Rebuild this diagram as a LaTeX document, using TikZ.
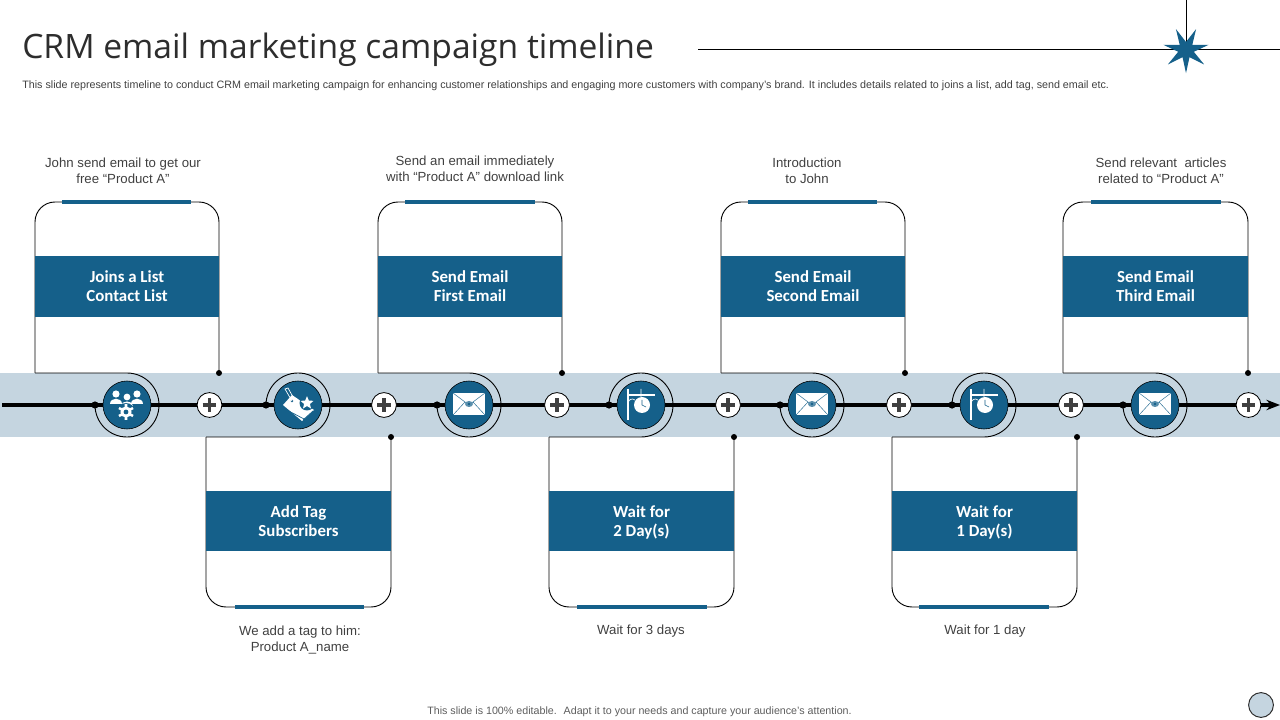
\documentclass[tikz,border=0pt]{standalone}
\usepackage{fontspec}
\setmainfont{Liberation Sans}
\newfontfamily\titlefont{Open Sans}
\newfontfamily\cardfont{Carlito}
\usetikzlibrary{arrows.meta,shapes.geometric}
\definecolor{crmblue}{HTML}{15608A}
\definecolor{crmband}{HTML}{C5D5E0}
\definecolor{crmtext}{HTML}{404040}
\tikzset{
  cardline/.style={draw=black,line width=0.65pt},
  cardtop/.style={cardline,rounded corners=0.5cm},
  accent/.style={draw=crmblue,line width=2.2pt},
  bannertext/.style={text=white,inner sep=0pt,align=center,font=\cardfont\bfseries\fontsize{12}{13.5}\selectfont},
  banner/.style={bannertext,fill=crmblue,minimum width=4.62cm},
  bannerup/.style={banner,minimum height=1.52cm},
  bannerdown/.style={banner,minimum height=1.5cm},
  note/.style={text=crmtext,align=center,inner sep=0pt,font=\fontsize{9.4}{11.4}\selectfont},
  dot/.style={circle,fill=black,inner sep=0pt,minimum size=0.15cm},
  axisdot/.style={dot,minimum size=0.18cm},
  hub/.style={circle,fill=crmblue,draw=black,line width=0.4pt,inner sep=0pt,minimum size=1.2cm},
  plusnode/.style={circle,draw=black,fill=white,line width=0.6pt,inner sep=0pt,minimum size=0.62cm,
    path picture={\draw[crmtext,line width=2.5pt] ([xshift=-0.17cm]path picture bounding box.center)--([xshift=0.17cm]path picture bounding box.center)
      ([yshift=-0.17cm]path picture bounding box.center)--([yshift=0.17cm]path picture bounding box.center);}}
}
% icons, drawn round the centre of a hub
\newcommand{\peopleicon}[1]{\begin{scope}[shift={(#1)},white]
\fill (-11,-11) circle [radius=3.6];
\fill (10,-11) circle [radius=3.6];
\fill (0,-8) circle [radius=3.4];
\fill (-17,-1) .. controls (-17,-8) and (-5,-8) .. (-5,-1) -- cycle;
\fill (4,-1) .. controls (4,-8) and (16,-8) .. (16,-1) -- cycle;
\fill (-6,1) .. controls (-6,-5) and (6,-5) .. (6,1) -- cycle;
\fill[crmblue] (-1,7) circle [radius=9];
\fill (-1,7) circle [radius=5.6];
\draw[line width=1.8pt] (-1,-1)--(-1,15) (-8,3)--(6,11) (-8,11)--(6,3);
\fill[crmblue] (-1,7) circle [radius=2.4];
\end{scope}}
\newcommand{\mailicon}[1]{\begin{scope}[shift={(#1)}]
\fill[white] (-16,-12) rectangle (16,10);
\draw[crmblue,line width=0.3pt] (-16,-12)--(0,0)--(16,-12) (-16,10)--(-4,-3) (16,10)--(4,-3);
\fill[crmblue!70] (0,-1) ellipse [x radius=4,y radius=3];
\fill[crmblue] (0,-1) circle [radius=1.3];
\end{scope}}
\newcommand{\tagicon}[1]{\begin{scope}[shift={(#1)}]
\fill[white] (-15,0)--(-6,-10)--(16,5)--(4,16)--cycle;
\draw[crmblue,line width=0.5pt] (-13,4)--(6,14) (5,15)--(15,6);
\fill[crmblue] (-6,-4) circle [radius=1.4];
\draw[white,line width=0.5pt] (-6,-4)--(-13,-16)--(-10,-17)--(-5,-8);
\fill[crmblue] (9,-2) circle [radius=7.5];
\node[star,star points=5,star point ratio=2.2,fill=white,inner sep=0pt,minimum size=0.34cm] at (9,-2) {};
\end{scope}}
\newcommand{\clockicon}[1]{\begin{scope}[shift={(#1)}]
\draw[white,line width=1.4pt] (-13,-16)--(-13,15) (-13,-10)--(14,-10);
\draw[white,line width=0.5pt] (0,-16)--(0,-8) (-13,-2) .. controls (-12,-6) and (-9,-7) .. (-6,-5);
\fill[white] (1,0) circle [radius=8];
\draw[crmblue,line width=0.4pt] (1,-5)--(1,0)--(5,2);
\end{scope}}
\begin{document}
\begin{tikzpicture}[x=0.025cm,y=-0.025cm]
\useasboundingbox (0,0) rectangle (1280,720);
% header
\node (title) [anchor=west,inner sep=0pt,text=crmtext!70!black,font=\titlefont\fontsize{23.9}{29}\selectfont] at (22,49.5) {CRM email marketing campaign timeline};
\node (subtitle) [anchor=west,inner sep=0pt,text=crmtext,font=\fontsize{7.63}{9}\selectfont] at (22,85.5) {This slide represents timeline to conduct CRM email marketing campaign for enhancing customer relationships and engaging more customers with company’s brand. It includes details related to joins a list, add tag, send email etc.};
\coordinate (ruleleft) at (698,49);
\coordinate (ruleright) at (1280,49);
\coordinate (ruletop) at (1186,0);
\node (starback) [inner sep=0pt] at (1186,50) {};
\draw[line width=0.7pt] (ruleleft)--(ruleright);
\draw[line width=0.7pt] (ruletop)--(starback.center);
\node (starmark) [star,star points=7,star point ratio=2.9,shape border rotate=180,fill=crmblue,inner sep=0pt,minimum size=1.16cm] at (1186,50) {};
% band and axis
\fill[crmband] (0,373) rectangle (1280,437);
\coordinate (axisstart) at (2,405);
\coordinate (axisend) at (1280,405);
\draw[-{Stealth[length=0.34cm,width=0.26cm]},line width=2.2pt] (axisstart)--(axisend);
% upper cards
\draw[cardtop] (219,373)--(219,202)--(35,202)--(35,373);
\draw[cardline] (35,373)--(127,373) arc[start angle=90,end angle=-180,radius=0.8cm];
\draw[cardtop] (562,373)--(562,202)--(378,202)--(378,373);
\draw[cardline] (378,373)--(469,373) arc[start angle=90,end angle=-180,radius=0.8cm];
\draw[cardtop] (905,373)--(905,202)--(721,202)--(721,373);
\draw[cardline] (721,373)--(812,373) arc[start angle=90,end angle=-180,radius=0.8cm];
\draw[cardtop] (1248,373)--(1248,202)--(1063,202)--(1063,373);
\draw[cardline] (1063,373)--(1155,373) arc[start angle=90,end angle=-180,radius=0.8cm];
% lower cards
\draw[cardtop] (391,437)--(391,607)--(206,607)--(206,437);
\draw[cardline] (206,437)--(298,437) arc[start angle=-90,end angle=180,radius=0.8cm];
\draw[cardtop] (734,437)--(734,607)--(549,607)--(549,437);
\draw[cardline] (549,437)--(641,437) arc[start angle=-90,end angle=180,radius=0.8cm];
\draw[cardtop] (1077,437)--(1077,607)--(892,607)--(892,437);
\draw[cardline] (892,437)--(984,437) arc[start angle=-90,end angle=180,radius=0.8cm];
% accents
\draw[accent] (62,202)--(191,202);
\draw[accent] (405,202)--(535,202);
\draw[accent] (748,202)--(877,202);
\draw[accent] (1091,202)--(1221,202);
\draw[accent] (235,607)--(364,607);
\draw[accent] (577,607)--(707,607);
\draw[accent] (919,607)--(1049,607);
% banners
\node (joins) [bannerup] at (127,286.5) {Joins a List\\Contact List};
\node (first) [bannerup] at (470,286.5) {Send Email\\First Email};
\node (second) [bannerup] at (813,286.5) {Send Email\\Second Email};
\node (third) [bannerup] at (1155.5,286.5) {Send Email\\Third Email};
\node (addbox) [bannerdown] at (298.5,521) {};
\node (addtag) [bannertext] at (298.5,521) {Add Tag\\Subscribers};
\node (waittwobox) [bannerdown] at (641.5,521) {};
\node (waittwo) [bannertext] at (641.5,522) {Wait for\\2 Day(s)};
\node (waitonebox) [bannerdown] at (984.5,521) {};
\node (waitone) [bannertext] at (984.5,522) {Wait for\\1 Day(s)};
% notes
\node (notejoins) [note] at (123,171) {John send email to get our\\free “Product A”};
\node (notefirst) [note] at (475,169) {Send an email immediately\\with “Product A” download link};
\node (notesecond) [note] at (807,171) {Introduction\\to John};
\node (notethird) [note] at (1161,171) {Send relevant~ articles\\related to “Product A”};
\node (notetag) [note] at (300,640) {We add a tag to him:\\Product A\_name};
\node (notetwo) [note] at (641,631) {Wait for 3 days};
\node (noteone) [note] at (985,631) {Wait for 1 day};
\node (footer) [note,font=\fontsize{7.6}{9}\selectfont,text=crmtext!85] at (639.5,711.5) {This slide is 100\% editable.~ Adapt it to your needs and capture your audience’s attention.};
% hubs
\node (hubone) [hub] at (127,405) {};
\node (hubtwo) [hub] at (298,405) {};
\node (hubthree) [hub] at (469,405) {};
\node (hubfour) [hub] at (641,405) {};
\node (hubfive) [hub] at (812,405) {};
\node (hubsix) [hub] at (984,405) {};
\node (hubseven) [hub] at (1155,405) {};
\peopleicon{hubone}
\tagicon{hubtwo}
\mailicon{hubthree}
\clockicon{hubfour}
\mailicon{hubfive}
\clockicon{hubsix}
\mailicon{hubseven}
% dots
\node (dotup1) [dot] at (219,373) {};
\node (dotup2) [dot] at (562,373) {};
\node (dotup3) [dot] at (905,373) {};
\node (dotup4) [dot] at (1248,373) {};
\node (dotdown1) [dot] at (391,437) {};
\node (dotdown2) [dot] at (734,437) {};
\node (dotdown3) [dot] at (1077,437) {};
\node (dotaxis1) [axisdot] at (95,405) {};
\node (dotaxis2) [axisdot] at (266,405) {};
\node (dotaxis3) [axisdot] at (437,405) {};
\node (dotaxis4) [axisdot] at (609,405) {};
\node (dotaxis5) [axisdot] at (780,405) {};
\node (dotaxis6) [axisdot] at (952,405) {};
\node (dotaxis7) [axisdot] at (1123,405) {};
% plus marks
\node (plusone) [plusnode] at (209.5,405) {};
\node (plustwo) [plusnode] at (384,405) {};
\node (plusthree) [plusnode] at (557,405) {};
\node (plusfour) [plusnode] at (728,405) {};
\node (plusfive) [plusnode] at (899,405) {};
\node (plussix) [plusnode] at (1071,405) {};
\node (plusseven) [plusnode] at (1248.5,405) {};
% corner mark
\node (cornermark) [circle,draw=crmtext!70!black,fill=crmband,line width=0.7pt,inner sep=0pt,minimum size=0.62cm] at (1261,705) {};
\end{tikzpicture}
\end{document}
